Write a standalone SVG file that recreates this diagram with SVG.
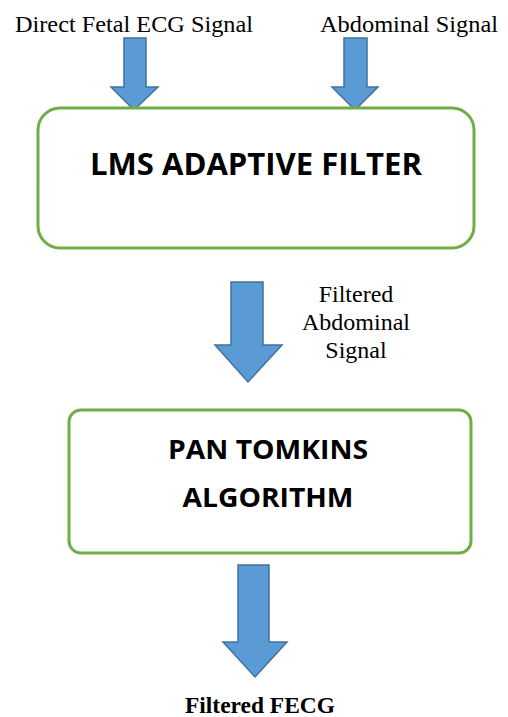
<svg xmlns="http://www.w3.org/2000/svg" width="508" height="717" viewBox="0 0 508 717">
<style>
.box{fill:#fff;stroke:#70AD47;stroke-width:3}
.arr{fill:#5B9BD5;stroke:#41719C;stroke-width:1.5;stroke-linejoin:miter}
.lbl{font-family:"Liberation Serif","Times New Roman",serif;font-size:24px;fill:#000}
.t{font-family:"Open Sans","Liberation Sans",sans-serif;font-weight:bold;fill:#000;text-anchor:middle}
</style>
<rect width="508" height="717" fill="#fff"/>
<g id="connectors">
<polygon class="arr" points="124,38 146,38 146,87 158,87 134,110 111,87 124,87"/>
<polygon class="arr" points="344,38 367,38 367,87 378,87 355,110 332,87 344,87"/>
<polygon class="arr" points="231,282 263,282 263,345 282,345 248,382 215,345 231,345"/>
<polygon class="arr" points="238,565 269,565 269,642 287,642 255,677 223,642 238,642"/>
</g>
<g id="label-direct"><text class="lbl" x="15" y="32" textLength="238" lengthAdjust="spacingAndGlyphs">Direct Fetal ECG Signal</text></g>
<g id="label-abdominal"><text class="lbl" x="320" y="32" textLength="178" lengthAdjust="spacingAndGlyphs">Abdominal Signal</text></g>
<g id="lms">
<rect class="box" x="38" y="108" width="436" height="140" rx="22"/>
<text class="t" x="256" y="175" font-size="31" textLength="332" lengthAdjust="spacingAndGlyphs">LMS ADAPTIVE FILTER</text>
</g>
<g id="label-filtered">
<text class="lbl" text-anchor="middle" x="356" y="302">Filtered</text>
<text class="lbl" text-anchor="middle" x="356" y="330">Abdominal</text>
<text class="lbl" text-anchor="middle" x="356" y="358">Signal</text>
</g>
<g id="pan">
<rect class="box" x="69" y="410" width="402" height="143" rx="12"/>
<text class="t" x="268" y="459" font-size="27" textLength="200" lengthAdjust="spacingAndGlyphs">PAN TOMKINS</text>
<text class="t" x="268" y="507" font-size="27" textLength="171" lengthAdjust="spacingAndGlyphs">ALGORITHM</text>
</g>
<g id="label-output"><text class="lbl" x="260" y="713" text-anchor="middle" font-weight="bold" textLength="150" lengthAdjust="spacingAndGlyphs">Filtered FECG</text></g>
</svg>
